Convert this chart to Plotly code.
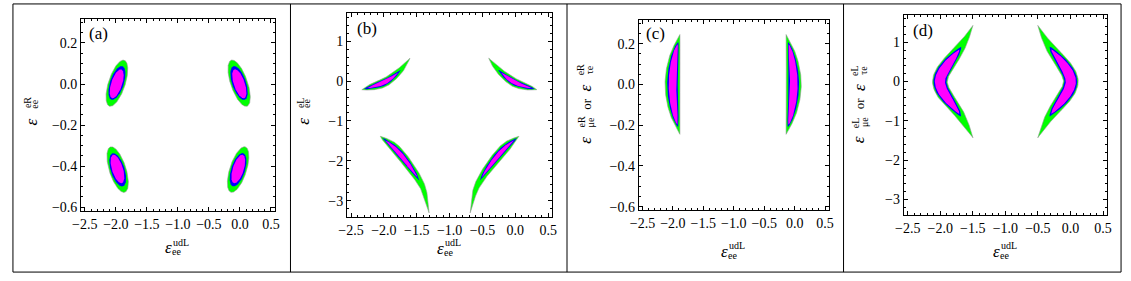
import numpy as np
import plotly.graph_objects as go

# ---------------- data ----------------
X_RANGE = [-2.56, 0.56]
Y_RANGE_SMALL = [-0.618, 0.318]
Y_RANGE_LARGE = [-3.4, 1.7]

X_TICKS = [-2.5, -2.0, -1.5, -1.0, -0.5, 0.0, 0.5]
X_TICK_TEXT = ["\u22122.5", "\u22122.0", "\u22121.5", "\u22121.0", "\u22120.5", "0.0", "0.5"]
Y_TICKS_SMALL = [-0.6, -0.4, -0.2, 0.0, 0.2]
Y_TICK_TEXT_SMALL = ["\u22120.6", "\u22120.4", "\u22120.2", "0.0", "0.2"]
Y_TICKS_LARGE = [-3, -2, -1, 0, 1]
Y_TICK_TEXT_LARGE = ["\u22123", "\u22122", "\u22121", "0", "1"]

# Region centre-lines (spines), data coordinates
# panel (a): four tilted ellipses
A1_X = [-2.103, -1.864]; A1_Y = [-0.108, 0.116]
A2_X = [0.114, -0.140];  A2_Y = [-0.108, 0.116]
A3_X = [-2.087, -1.855]; A3_Y = [-0.306, -0.527]
A4_X = [0.087, -0.145];  A4_Y = [-0.306, -0.527]
# panel (b): four crescents
B1_X = [-2.335, -2.144, -1.968, -1.719, -1.603]; B1_Y = [-0.217, -0.126, -0.020, 0.318, 0.572]
B2_X = [0.327, 0.140, -0.035, -0.285, -0.405];  B2_Y = [-0.217, -0.126, -0.020, 0.318, 0.572]
B3_X = [-2.054, -1.843, -1.668, -1.408, -1.313]; B3_Y = [-1.384, -1.673, -2.001, -2.660, -3.300]
B4_X = [0.054, -0.157, -0.332, -0.592, -0.687];  B4_Y = [-1.384, -1.673, -2.001, -2.660, -3.300]
# panel (c): two arcs
C1_X = [-1.885, -1.971, -2.007, -1.971, -1.885]; C1_Y = [0.245, 0.133, 0.0, -0.133, -0.245]
C2_X = [-0.140, -0.052, -0.013, -0.052, -0.140]; C2_Y = [0.245, 0.133, 0.0, -0.133, -0.245]
# panel (d): two chevrons
D1_X = [-1.498, -1.61, -1.741, -1.882, -1.976, -2.006, -1.976, -1.882, -1.741, -1.61, -1.498]
D1_Y = [1.43, 1.073, 0.739, 0.446, 0.195, 0.0, -0.195, -0.446, -0.739, -1.073, -1.43]
D2_X = [-0.502, -0.39, -0.259, -0.118, -0.024, 0.006, -0.024, -0.118, -0.259, -0.39, -0.502]
D2_Y = [1.43, 1.073, 0.739, 0.446, 0.195, 0.0, -0.195, -0.446, -0.739, -1.073, -1.43]

# Confidence levels (outer, middle, inner) along each spine:
# (start, peak, end) as fraction of spine length, peak half-width (fraction of frame), taper exponent
A_LEVELS = [(0.0, 0.50, 1.0, 0.0434, 0.5), (0.14, 0.505, 0.87, 0.0360, 0.5), (0.175, 0.49, 0.80, 0.0285, 0.5)]
B_UP_LEVELS = [(0.0, 0.35, 1.0, 0.0205, 1.0), (0.04, 0.38, 0.745, 0.0135, 0.8), (0.10, 0.40, 0.68, 0.0090, 0.8)]
B_LOW_LEVELS = [(0.0, 0.22, 1.0, 0.0230, 1.1), (0.03, 0.30, 0.635, 0.0155, 0.8), (0.07, 0.32, 0.59, 0.0105, 0.8)]
C_LEVELS = [(0.0, 0.5, 1.0, 0.039, 1.0), (0.075, 0.5, 0.925, 0.0276, 0.7), (0.10, 0.5, 0.90, 0.0200, 0.6)]
D_LEVELS = [(0.0, 0.5, 1.0, 0.0365, 1.1), (0.185, 0.5, 0.815, 0.0316, 0.7), (0.21, 0.5, 0.79, 0.0250, 0.7)]

# ---------------- styles / layout ----------------
W_FIG, H_FIG = 1131, 281
LEVEL_COLORS = ["#00FF00", "#0000FF", "#FF00FF"]
SERIF = '"Liberation Serif", "Times New Roman", Times, serif'
# plot frames in pixels (left, right, top, bottom)
BOXES = [(73, 269, 19, 214), (342.3, 550, 13.3, 220), (637.7, 830, 20, 213.3), (906, 1111.7, 15, 218.3)]


def catmull_rom(pts, n_per=80, alpha=0.5):
    pts = np.asarray(pts, float)
    if len(pts) == 2:
        t = np.linspace(0, 1, 2 * n_per)[:, None]
        return pts[0] + (pts[1] - pts[0]) * t
    P = np.vstack([2 * pts[0] - pts[1], pts, 2 * pts[-1] - pts[-2]])
    out = []
    nseg = len(P) - 3
    for i in range(1, len(P) - 2):
        p0, p1, p2, p3 = P[i - 1], P[i], P[i + 1], P[i + 2]
        t0 = 0.0
        t1 = t0 + max(np.linalg.norm(p1 - p0), 1e-9) ** alpha
        t2 = t1 + max(np.linalg.norm(p2 - p1), 1e-9) ** alpha
        t3 = t2 + max(np.linalg.norm(p3 - p2), 1e-9) ** alpha
        t = np.linspace(t1, t2, n_per, endpoint=(i == nseg))[:, None]
        A1 = (t1 - t) / (t1 - t0) * p0 + (t - t0) / (t1 - t0) * p1
        A2 = (t2 - t) / (t2 - t1) * p1 + (t - t1) / (t2 - t1) * p2
        A3 = (t3 - t) / (t3 - t2) * p2 + (t - t2) / (t3 - t2) * p3
        B1 = (t2 - t) / (t2 - t0) * A1 + (t - t0) / (t2 - t0) * A2
        B2 = (t3 - t) / (t3 - t1) * A2 + (t - t1) / (t3 - t1) * A3
        C = (t2 - t) / (t2 - t1) * B1 + (t - t1) / (t2 - t1) * B2
        out.append(C)
    return np.vstack(out)


def region_polys(xs, ys, levels, xr, yr, wpx, hpx):
    sx = wpx / (xr[1] - xr[0])
    sy = hpx / (yr[1] - yr[0])
    pts = np.column_stack([(np.array(xs) - xr[0]) * sx, (np.array(ys) - yr[0]) * sy])
    spine = catmull_rom(pts)
    d = np.diff(spine, axis=0)
    seg = np.hypot(d[:, 0], d[:, 1])
    cum = np.concatenate([[0], np.cumsum(seg)])
    cum /= cum[-1]
    tan = np.gradient(spine, axis=0)
    tan /= np.hypot(tan[:, 0], tan[:, 1])[:, None]
    frame = (wpx + hpx) / 2
    polys = []
    for (t0, tc, t1, hw, pw) in levels:
        th = np.linspace(0, np.pi, 201)
        sp = -np.cos(th)
        u = np.where(sp < 0, tc + sp * (tc - t0), tc + sp * (t1 - tc))
        w = hw * frame * np.abs(np.sin(th)) ** (2 * pw)
        px = np.interp(u, cum, spine[:, 0])
        py = np.interp(u, cum, spine[:, 1])
        tx = np.interp(u, cum, tan[:, 0])
        ty = np.interp(u, cum, tan[:, 1])
        nr = np.hypot(tx, ty)
        tx, ty = tx / nr, ty / nr
        nx, ny = -ty, tx
        X = np.concatenate([px + w * nx, (px - w * nx)[::-1]])
        Y = np.concatenate([py + w * ny, (py - w * ny)[::-1]])
        polys.append((xr[0] + X / sx, yr[0] + Y / sy))
    return polys


PANELS = [
    dict(yr=Y_RANGE_SMALL, regions=[(A1_X, A1_Y, A_LEVELS), (A2_X, A2_Y, A_LEVELS), (A3_X, A3_Y, A_LEVELS), (A4_X, A4_Y, A_LEVELS)],
         yt=Y_TICKS_SMALL, ytt=Y_TICK_TEXT_SMALL, ydm=0.05),
    dict(yr=Y_RANGE_LARGE, regions=[(B1_X, B1_Y, B_UP_LEVELS), (B2_X, B2_Y, B_UP_LEVELS), (B3_X, B3_Y, B_LOW_LEVELS), (B4_X, B4_Y, B_LOW_LEVELS)],
         yt=Y_TICKS_LARGE, ytt=Y_TICK_TEXT_LARGE, ydm=0.2),
    dict(yr=Y_RANGE_SMALL, regions=[(C1_X, C1_Y, C_LEVELS), (C2_X, C2_Y, C_LEVELS)],
         yt=Y_TICKS_SMALL, ytt=Y_TICK_TEXT_SMALL, ydm=0.05),
    dict(yr=Y_RANGE_LARGE, regions=[(D1_X, D1_Y, D_LEVELS), (D2_X, D2_Y, D_LEVELS)],
         yt=Y_TICKS_LARGE, ytt=Y_TICK_TEXT_LARGE, ydm=0.2),
]

fig = go.Figure()
layout = dict(width=W_FIG, height=H_FIG, margin=dict(l=0, r=0, t=0, b=0),
              paper_bgcolor="white", plot_bgcolor="white", showlegend=False)

def px2paper(x, y):
    return x / W_FIG, 1 - y / H_FIG

axis_common = dict(showline=True, linecolor="black", linewidth=1, mirror="ticks", ticks="inside",
                   ticklen=4, tickwidth=1, tickcolor="black", showgrid=False, zeroline=False,
                   tickfont=dict(family=SERIF, size=14, color="black"), tickmode="array")

for i, P in enumerate(PANELS):
    L, R, T, B = BOXES[i]
    sfx = "" if i == 0 else str(i + 1)
    xa, ya = "x" + sfx, "y" + sfx
    layout["xaxis" + sfx] = dict(axis_common, domain=[L / W_FIG, R / W_FIG], range=X_RANGE, anchor=ya,
                                 tickvals=X_TICKS, ticktext=X_TICK_TEXT,
                                 minor=dict(ticks="inside", ticklen=2, tickwidth=1, tickcolor="black",
                                            tickmode="linear", tick0=0, dtick=0.1, showgrid=False))
    layout["yaxis" + sfx] = dict(axis_common, domain=[1 - B / H_FIG, 1 - T / H_FIG], range=P["yr"], anchor=xa,
                                 tickvals=P["yt"], ticktext=P["ytt"],
                                 minor=dict(ticks="inside", ticklen=2, tickwidth=1, tickcolor="black",
                                            tickmode="linear", tick0=0, dtick=P["ydm"], showgrid=False))
    polys_all = [region_polys(xs, ys, lv, X_RANGE, P["yr"], R - L, B - T) for xs, ys, lv in P["regions"]]
    for k in range(3):
        for polys in polys_all:
            X, Y = polys[k]
            line = dict(width=1, color="rgba(150,150,150,0.6)") if k == 0 else dict(width=0)
            fig.add_trace(go.Scatter(x=X, y=Y, xaxis=xa, yaxis=ya, mode="lines", fill="toself",
                                     fillcolor=LEVEL_COLORS[k], line=line, hoverinfo="skip"))

annotations = []

def txt(s, x, y, size, italic=False, angle=0, xanchor="center", yanchor="middle"):
    xp, yp = px2paper(x, y)
    annotations.append(dict(text=("<i>%s</i>" % s) if italic else s, x=xp, y=yp, xref="paper", yref="paper",
                            showarrow=False, textangle=angle, xanchor=xanchor, yanchor=yanchor,
                            font=dict(family=SERIF, size=size, color="black")))

# panel letters
for lab, (x, y) in zip(["(a)", "(b)", "(c)", "(d)"], [(91, 34), (362, 29), (655, 34), (925, 31)]):
    txt(lab, x, y, 17)

# x titles
for i, dy in enumerate([0, 1, 4, 4]):
    L, R, T, B = BOXES[i]
    cx = (L + R) / 2
    txt("\u03b5", cx - 14.85, 251.5 + dy, 17, italic=True, xanchor="left")
    txt("udL", cx - 6.6, 245.5 + dy, 10, xanchor="left")
    txt("ee", cx - 7.6, 255.5 + dy, 10, xanchor="left")

# y titles (rotated)
def ytitle(pieces):
    for s, x, y, size, it in pieces:
        txt(s, x, y, size, italic=it, angle=-90)

ytitle([("\u03b5", 22.5, 124, 17, True), ("eR", 18.3, 104.5, 10, False), ("ee", 26.0, 105.5, 10, False)])
ytitle([("\u03b5", 298.3, 123, 17, True), ("eL", 294.7, 104.5, 10, False), ("ee", 301.8, 105.5, 10, False)])
ytitle([("\u03b5", 584, 142, 17, True), ("eR", 579.5, 124, 10, False), ("\u03bce", 588.5, 124, 10, False),
        ("or", 584.5, 105, 13, False), ("\u03b5", 584, 89, 17, True), ("eR", 579.5, 71, 10, False),
        ("\u03c4e", 588.5, 71, 10, False)])
ytitle([("\u03b5", 861, 142, 17, True), ("eL", 856.5, 124, 10, False), ("\u03bce", 865.5, 124, 10, False),
        ("or", 861.5, 105, 13, False), ("\u03b5", 861, 89, 17, True), ("eL", 856.5, 71, 10, False),
        ("\u03c4e", 865.5, 71, 10, False)])

# outer frame and dividers
shapes = []
x0, y0 = px2paper(4, 4)
x1, y1 = px2paper(1126, 276)
shapes.append(dict(type="rect", xref="paper", yref="paper", x0=x0, x1=x1, y0=y1, y1=y0,
                   line=dict(color="black", width=1)))
for xd in [285, 565, 845]:
    shapes.append(dict(type="line", xref="paper", yref="paper", x0=xd / W_FIG, x1=xd / W_FIG, y0=y1, y1=y0,
                       line=dict(color="black", width=1)))

layout["annotations"] = annotations
layout["shapes"] = shapes
fig.update_layout(**layout)
fig.write_html("out.html", config={"displayModeBar": False, "staticPlot": True},
               post_script="document.body.style.margin='0px';document.body.style.overflow='hidden';")
